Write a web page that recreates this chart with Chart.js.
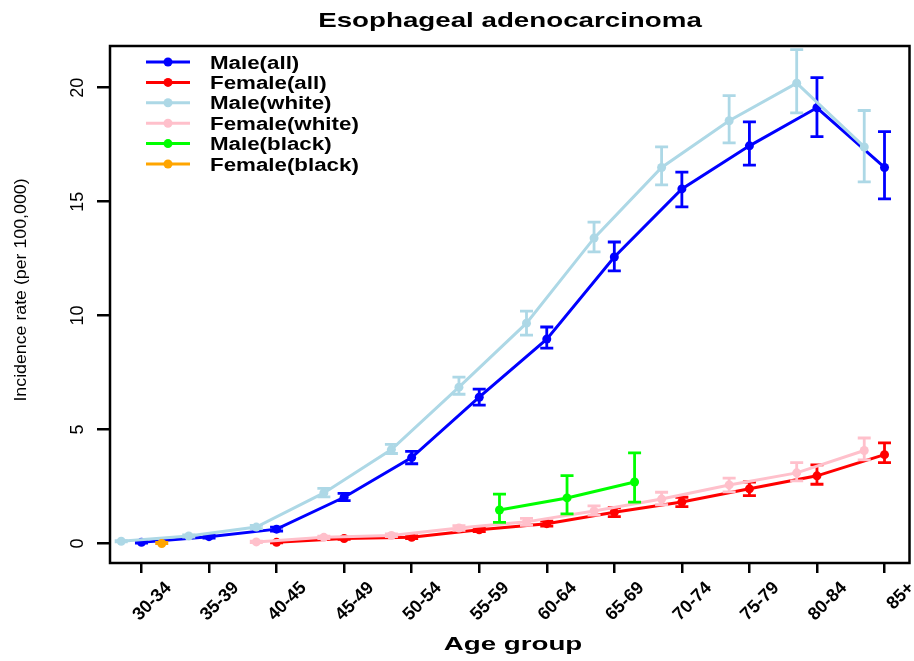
<!DOCTYPE html>
<html><head><meta charset="utf-8">
<script src="https://cdn.jsdelivr.net/npm/chart.js@4.4.1/dist/chart.umd.min.js"></script>
<style>html,body{margin:0;padding:0;background:#fff;overflow:hidden;}</style>
</head><body>
<canvas id="c" width="914" height="661"></canvas>
<script>
const categories = ['30-34','35-39','40-45','45-49','50-54','55-59','60-64','65-69','70-74','75-79','80-84','85+'];
const yTicks = [0, 5, 10, 15, 20];
const seriesNames = ['Male(all)','Female(all)','Male(white)','Female(white)','Male(black)','Female(black)'];
const seriesColors = ['#0000FF','#FF0000','#ADD8E6','#FFC0CB','#00FF00','#FFA500'];
const seriesOffsets = [0, 0, -0.3, -0.3, 0.3, 0.3];

const maleAll   = [0.05, 0.30, 0.63, 2.03, 3.77, 6.42, 8.97, 12.57, 15.56, 17.45, 19.12, 16.50];
const maleAllLo = [0.02, 0.24, 0.55, 1.88, 3.50, 6.07, 8.57, 11.96, 14.77, 16.60, 17.85, 15.12];
const maleAllHi = [0.08, 0.36, 0.72, 2.20, 4.04, 6.77, 9.50, 13.23, 16.30, 18.50, 20.44, 18.07];

const femaleAll   = [null, null, 0.05, 0.22, 0.27, 0.60, 0.87, 1.37, 1.82, 2.40, 2.97, 3.90];
const femaleAllLo = [null, null, 0.03, 0.18, 0.22, 0.52, 0.76, 1.18, 1.62, 2.10, 2.60, 3.55];
const femaleAllHi = [null, null, 0.08, 0.27, 0.33, 0.68, 0.98, 1.57, 2.03, 2.70, 3.45, 4.42];

const maleWhite   = [0.10, 0.33, 0.72, 2.22, 4.12, 6.86, 9.67, 13.40, 16.50, 18.55, 20.20, 17.40];
const maleWhiteLo = [0.07, 0.28, 0.65, 2.05, 3.95, 6.55, 9.14, 12.80, 15.74, 17.58, 18.90, 15.87];
const maleWhiteHi = [0.13, 0.38, 0.80, 2.42, 4.35, 7.30, 10.20, 14.10, 17.40, 19.65, 21.67, 19.00];

const femaleWhite   = [null, null, 0.07, 0.27, 0.35, 0.68, 0.95, 1.43, 1.95, 2.57, 3.10, 4.08];
const femaleWhiteLo = [null, null, 0.04, 0.22, 0.30, 0.58, 0.80, 1.25, 1.70, 2.27, 2.75, 3.67];
const femaleWhiteHi = [null, null, 0.10, 0.32, 0.42, 0.78, 1.10, 1.65, 2.25, 2.87, 3.55, 4.63];

const maleBlack   = [null, null, null, null, null, 1.47, 2.00, 2.70, null, null, null, null];
const maleBlackLo = [null, null, null, null, null, 0.93, 1.30, 1.82, null, null, null, null];
const maleBlackHi = [null, null, null, null, null, 2.17, 2.98, 3.98, null, null, null, null];

const femaleBlack   = [0.00, null, null, null, null, null, null, null, null, null, null, null];
const femaleBlackLo = [0.00, null, null, null, null, null, null, null, null, null, null, null];
const femaleBlackHi = [0.05, null, null, null, null, null, null, null, null, null, null, null];

const seriesValues = [maleAll, femaleAll, maleWhite, femaleWhite, maleBlack, femaleBlack];
const seriesLo = [maleAllLo, femaleAllLo, maleWhiteLo, femaleWhiteLo, maleBlackLo, femaleBlackLo];
const seriesHi = [maleAllHi, femaleAllHi, maleWhiteHi, femaleWhiteHi, maleBlackHi, femaleBlackHi];

const FONT = '"Liberation Sans", Arial, Helvetica, sans-serif';

function toPoints(vals, off) {
  const pts = [];
  vals.forEach((v, i) => { if (v !== null) pts.push({x: i + off, y: v}); });
  return pts;
}

const datasets = seriesNames.map((name, k) => ({
  label: name,
  data: toPoints(seriesValues[k], seriesOffsets[k]),
  borderColor: seriesColors[k],
  backgroundColor: seriesColors[k],
  borderWidth: 3,
  pointRadius: 4.5,
  pointBorderWidth: 0,
  pointHoverRadius: 4.5,
  tension: 0,
  order: -k,
  clip: false
}));

function stretchText(ctx, text, x, y, font, sx, align, rotate) {
  ctx.save();
  ctx.translate(x, y);
  if (rotate) ctx.rotate(-Math.PI / 2);
  ctx.scale(sx, 1);
  ctx.font = font;
  ctx.fillStyle = '#000';
  ctx.textAlign = align;
  ctx.textBaseline = 'alphabetic';
  ctx.fillText(text, 0, 0);
  ctx.restore();
}

const errorBars = {
  id: 'errorBars',
  afterDatasetDraw(chart, args) {
    const k = args.index;
    const ctx = chart.ctx;
    const xs = chart.scales.x, ys = chart.scales.y;
    ctx.save();
    ctx.strokeStyle = seriesColors[k];
    ctx.lineWidth = 2.8;
    ctx.lineCap = 'butt';
    seriesValues[k].forEach((v, i) => {
      if (v === null || seriesLo[k][i] === null) return;
      const px = xs.getPixelForValue(i + seriesOffsets[k]);
      const y1 = ys.getPixelForValue(seriesLo[k][i]);
      const y2 = ys.getPixelForValue(seriesHi[k][i]);
      const hw = 6.5;
      ctx.beginPath();
      ctx.moveTo(px, y1); ctx.lineTo(px, y2);
      ctx.moveTo(px - hw, y1); ctx.lineTo(px + hw, y1);
      ctx.moveTo(px - hw, y2); ctx.lineTo(px + hw, y2);
      ctx.stroke();
    });
    ctx.restore();
  }
};

const decor = {
  id: 'decor',
  beforeDatasetsDraw(chart) {
    const {ctx, chartArea: a} = chart;
    ctx.save();
    ctx.strokeStyle = '#000';
    ctx.lineWidth = 2.5;
    ctx.strokeRect(a.left, a.top, a.right - a.left, a.bottom - a.top);
    ctx.restore();
  },
  afterDraw(chart) {
    const ctx = chart.ctx;
    const ys = chart.scales.y;
    ys.ticks.forEach(t => {
      stretchText(ctx, String(t.value), 83, ys.getPixelForValue(t.value), '18px ' + FONT, 1.0, 'center', true);
    });
    stretchText(ctx, 'Esophageal adenocarcinoma', 510, 27, 'bold 21px ' + FONT, 1.32, 'center', false);
    stretchText(ctx, 'Age group', 513, 650, 'bold 18px ' + FONT, 1.54, 'center', false);
    stretchText(ctx, 'Incidence rate (per 100,000)', 25.5, 290, '16px ' + FONT, 1.11, 'center', true);
    seriesNames.forEach((name, k) => {
      const cy = 62 + k * 20.4;
      ctx.save();
      ctx.strokeStyle = seriesColors[k];
      ctx.fillStyle = seriesColors[k];
      ctx.lineWidth = 3;
      ctx.beginPath(); ctx.moveTo(146, cy); ctx.lineTo(190, cy); ctx.stroke();
      ctx.beginPath(); ctx.arc(168, cy, 4.5, 0, Math.PI * 2); ctx.fill();
      ctx.restore();
      stretchText(ctx, name, 210, cy + 6.5, 'bold 18px ' + FONT, 1.24, 'left', false);
    });
  }
};

new Chart(document.getElementById('c'), {
  type: 'line',
  data: { datasets },
  options: {
    responsive: false,
    animation: false,
    events: [],
    layout: { padding: { left: 0, right: 4, top: 46, bottom: 0 } },
    plugins: { legend: { display: false }, title: { display: false }, tooltip: { enabled: false } },
    scales: {
      x: {
        type: 'linear',
        min: -0.466,
        max: 11.37,
        afterBuildTicks: s => { s.ticks = categories.map((c, i) => ({ value: i })); },
        afterFit: s => { s.height = 98; },
        grid: { drawOnChartArea: false, drawTicks: true, tickLength: 10, color: '#000', lineWidth: 2.5 },
        border: { display: false },
        ticks: {
          autoSkip: false,
          minRotation: 45,
          maxRotation: 45,
          padding: 4.6,
          labelOffset: 27,
          color: '#000',
          font: { family: FONT, size: 18, weight: 'bold' },
          callback: v => categories[v]
        }
      },
      y: {
        type: 'linear',
        min: -0.855,
        max: 21.83,
        afterBuildTicks: s => { s.ticks = yTicks.map(v => ({ value: v })); },
        afterFit: s => { s.width = 110; },
        grid: { drawOnChartArea: false, drawTicks: true, tickLength: 13, color: '#000', lineWidth: 2.5 },
        border: { display: false },
        ticks: {
          color: 'rgba(0,0,0,0)',
          font: { family: FONT, size: 18 },
          callback: v => String(v)
        }
      }
    }
  },
  plugins: [errorBars, decor]
});
</script>
</body></html>
